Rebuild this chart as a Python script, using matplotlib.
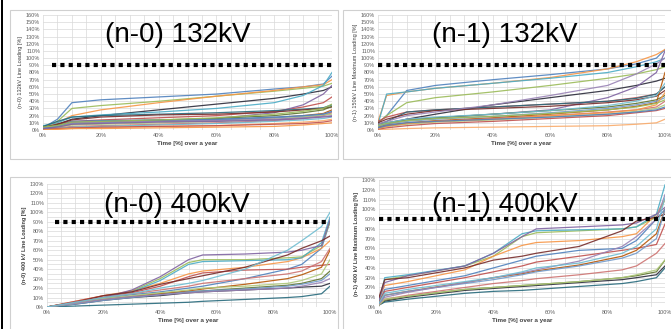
import matplotlib
matplotlib.use("Agg")
import matplotlib.pyplot as plt
from matplotlib.patches import Rectangle

plt.rcParams['font.family'] = ['Liberation Sans', 'DejaVu Sans']

W, H = 671, 329

# ---------------- data ----------------
titles = ["(n-0) 132kV", "(n-1) 132kV", "(n-0) 400kV", "(n-1) 400kV"]
ylabels = ["(n-0) 132kV Line Loading [%]",
           "(n-1) 150kV Line Maximum Loading [%]",
           "(n-0) 400 kV Line Loading [%]",
           "(n-1) 400 kV Line Maximum Loading [%]"]
xlabel = "Time [%] over a year"
limit_level = 90

colors = ['#4F81BD', '#9BBB59', '#F79646', '#2B2B3A', '#4BACC6', '#C0504D',
          '#8064A2', '#276A7C', '#772C2A', '#5F7530', '#B65708', '#729ACA',
          '#CD7371', '#AFC97A', '#9983B5', '#6FBDD1', '#F9AB6B', '#C0504D',
          '#F79646', '#4F81BD', '#9BBB59', '#8064A2']

tl_x = [0, 5, 10, 20, 40, 60, 80, 90, 97, 100]
tl_series = [
    [3, 15, 38, 42, 46, 50, 57, 60, 64, 75],
    [3, 12, 30, 34, 40, 47, 54, 58, 61, 65],
    [4, 10, 20, 28, 38, 47, 55, 60, 63, 70],
    [2, 8, 15, 20, 28, 36, 44, 50, 55, 60],
    [6, 10, 18, 21, 25, 30, 38, 48, 62, 80],
    [3, 8, 12, 14, 17, 20, 26, 32, 38, 46],
    [2, 6, 10, 11, 13, 16, 24, 35, 50, 62],
    [5, 12, 18, 20, 22, 24, 27, 29, 31, 35],
    [3, 8, 14, 18, 21, 22, 25, 28, 30, 32],
    [4, 7, 10, 12, 14, 16, 20, 24, 28, 33],
    [2, 4, 8, 10, 12, 14, 17, 20, 23, 28],
    [2, 5, 9, 10, 12, 14, 17, 19, 22, 25],
    [1, 3, 5, 6, 8, 10, 13, 16, 20, 24],
    [2, 4, 7, 8, 10, 12, 15, 18, 21, 22],
    [3, 6, 10, 11, 12, 13, 15, 17, 19, 20],
    [1, 2, 4, 5, 7, 9, 12, 14, 16, 18],
    [0, 1, 2, 3, 5, 6, 9, 11, 13, 15],
    [1, 2, 3, 4, 5, 6, 8, 9, 11, 13],
    [0, 1, 2, 2, 3, 4, 5, 7, 9, 10],
    [2, 5, 12, 13, 14, 15, 18, 20, 22, 26],
    [4, 6, 11, 12, 14, 17, 22, 26, 30, 36],
    [2, 4, 8, 9, 11, 12, 14, 16, 18, 19],
]

tr_x = [0, 3, 10, 20, 40, 60, 80, 90, 97, 100]
tr_series = [
    [10, 20, 55, 62, 70, 77, 85, 92, 100, 112],
    [10, 20, 38, 45, 53, 62, 72, 78, 84, 88],
    [12, 48, 53, 58, 65, 73, 85, 95, 105, 112],
    [3, 8, 15, 22, 35, 45, 55, 62, 68, 72],
    [8, 50, 53, 58, 65, 72, 80, 88, 95, 100],
    [12, 18, 25, 28, 32, 36, 40, 45, 50, 60],
    [5, 10, 15, 17, 22, 28, 45, 60, 80, 110],
    [8, 12, 25, 28, 32, 36, 40, 44, 50, 60],
    [10, 15, 22, 27, 30, 33, 38, 42, 47, 55],
    [8, 10, 14, 17, 22, 27, 32, 37, 42, 48],
    [4, 7, 10, 13, 17, 22, 28, 33, 38, 80],
    [5, 8, 12, 15, 19, 24, 30, 35, 40, 45],
    [3, 6, 9, 12, 16, 20, 25, 28, 32, 40],
    [2, 5, 8, 11, 14, 18, 22, 26, 30, 35],
    [8, 12, 20, 25, 35, 48, 62, 78, 92, 100],
    [6, 10, 15, 18, 22, 27, 34, 40, 48, 65],
    [0, 1, 2, 3, 4, 5, 6, 8, 10, 15],
    [1, 3, 6, 9, 12, 16, 20, 24, 27, 30],
    [2, 5, 9, 12, 15, 20, 24, 28, 35, 52],
    [3, 6, 10, 12, 15, 18, 22, 25, 28, 32],
    [6, 9, 13, 16, 19, 23, 28, 32, 37, 42],
]

bl_x = [0, 10, 20, 30, 40, 50, 55, 70, 85, 90, 97, 100]
bl_series = [
    [0, 5, 9, 13, 16, 20, 22, 30, 40, 45, 62, 90],
    [0, 5, 10, 17, 30, 47, 50, 50, 52, 53, 65, 90],
    [0, 6, 12, 17, 25, 35, 38, 42, 48, 52, 62, 70],
    [0, 3, 7, 10, 12, 15, 16, 18, 20, 21, 22, 25],
    [0, 5, 10, 16, 28, 45, 48, 49, 50, 52, 68, 95],
    [0, 6, 12, 15, 22, 32, 36, 39, 40, 42, 44, 45],
    [0, 5, 10, 18, 32, 50, 55, 56, 58, 60, 65, 92],
    [0, 1, 2, 3, 4, 5, 6, 8, 10, 11, 14, 22],
    [0, 5, 12, 16, 24, 30, 33, 42, 55, 62, 70, 75],
    [0, 4, 8, 11, 14, 16, 17, 20, 23, 25, 30, 38],
    [0, 4, 8, 11, 14, 17, 19, 24, 30, 34, 42, 60],
    [0, 3, 7, 10, 13, 16, 17, 19, 22, 24, 28, 35],
    [0, 5, 10, 14, 18, 22, 25, 30, 35, 38, 48, 62],
    [0, 4, 9, 12, 15, 18, 20, 22, 25, 28, 35, 50],
    [0, 4, 8, 11, 13, 15, 16, 18, 20, 22, 26, 30],
    [0, 5, 10, 14, 20, 25, 28, 40, 60, 70, 85, 100],
]

br_x = [0, 2, 10, 30, 40, 50, 55, 70, 85, 90, 97, 100]
br_series = [
    [5, 18, 22, 32, 40, 48, 52, 58, 60, 68, 90, 100],
    [5, 28, 32, 42, 52, 72, 76, 78, 80, 82, 92, 110],
    [8, 22, 26, 38, 52, 63, 66, 68, 72, 75, 95, 110],
    [2, 6, 10, 17, 19, 21, 22, 25, 28, 30, 33, 42],
    [5, 30, 33, 42, 55, 75, 78, 79, 80, 82, 95, 125],
    [5, 16, 20, 30, 36, 42, 46, 52, 58, 60, 64, 85],
    [8, 25, 32, 42, 55, 72, 80, 82, 84, 86, 95, 102],
    [2, 5, 8, 14, 16, 17, 18, 21, 24, 26, 30, 40],
    [10, 28, 30, 40, 48, 52, 55, 62, 78, 88, 92, 95],
    [3, 7, 11, 18, 20, 22, 23, 26, 30, 32, 36, 48],
    [3, 12, 16, 25, 30, 34, 37, 43, 52, 58, 75, 100],
    [2, 12, 16, 24, 28, 33, 36, 42, 50, 55, 70, 100],
    [2, 8, 12, 20, 24, 27, 29, 33, 38, 42, 55, 65],
    [2, 8, 11, 18, 20, 22, 23, 26, 30, 33, 38, 48],
    [3, 10, 15, 25, 30, 35, 38, 47, 62, 72, 90, 115],
    [4, 14, 18, 26, 30, 36, 40, 45, 55, 62, 80, 112],
]

# ---------------- layout ----------------
fig = plt.figure(figsize=(W / 100, H / 100), dpi=100)
fig.patch.set_facecolor('white')


def fx(px):
    return px / W


def fy(py):
    return 1 - py / H


# left black bar
fig.add_artist(Rectangle((fx(1), 0), fx(3) - fx(1), 1, transform=fig.transFigure,
                         facecolor='black', edgecolor='none'))
# panel frames
frames = [(10, 10, 338, 159), (343, 10, 675, 159), (10, 177, 338, 335), (343, 177, 675, 335)]
for x0, y0, x1, y1 in frames:
    fig.add_artist(Rectangle((fx(x0), fy(y1)), fx(x1) - fx(x0), fy(y0) - fy(y1),
                             transform=fig.transFigure, facecolor='none',
                             edgecolor='#d0d0d0', linewidth=0.8))

# axes boxes (left, top, right, bottom) in pixels
boxes = [(43, 15, 332, 130), (378, 15, 665, 130), (47, 184, 330, 307), (379, 180, 665, 307)]
ymaxes = [160, 160, 130, 130]
ygrid_steps = [10, 10, 5, 5]
xs_all = [tl_x, tr_x, bl_x, br_x]
series_all = [tl_series, tr_series, bl_series, br_series]
dash_start = [3, 0, 3, 0]
title_pos = [(178, 35), (505, 35), (177, 205), (505, 205)]
ylabel_bold = [False, False, True, True]

for i in range(4):
    l, t, r, b = boxes[i]
    ax = fig.add_axes([fx(l), fy(b), fx(r) - fx(l), fy(t) - fy(b)])
    ax.set_xlim(0, 100)
    ax.set_ylim(0, ymaxes[i])
    ax.set_xticks(range(0, 101, 20))
    ax.set_xticklabels([f"{v}%" for v in range(0, 101, 20)])
    ax.set_yticks(range(0, ymaxes[i] + 1, 10))
    ax.set_yticklabels([f"{v}%" for v in range(0, ymaxes[i] + 1, 10)])
    for gx in range(0, 101, 5):
        ax.axvline(gx, color='#d9d9d9', linewidth=0.5, zorder=0)
    for gy in range(0, ymaxes[i] + 1, ygrid_steps[i]):
        ax.axhline(gy, color='#d9d9d9', linewidth=0.5, zorder=0)
    ax.tick_params(axis='both', length=0, labelsize=4, colors='#606060', pad=2)
    for s in ax.spines.values():
        s.set_visible(False)
    ax.axhline(0, color='#bfbfbf', linewidth=0.6, zorder=1)
    ax.set_facecolor('white')

    for j, ys in enumerate(series_all[i]):
        ax.plot(xs_all[i], ys, color=colors[j % len(colors)], linewidth=0.9,
                alpha=0.9, zorder=2)

    ax.plot([dash_start[i], 100], [limit_level, limit_level], color='black',
            linewidth=3, linestyle=(0, (1, 1)), dash_capstyle='butt', zorder=4)

    ax.set_xlabel(xlabel, fontsize=4.5, fontweight='bold', color='#404040', labelpad=2)
    ax.set_ylabel(ylabels[i], fontsize=4, color='#404040', labelpad=2,
                  fontweight='bold' if ylabel_bold[i] else 'normal')

    tx, ty = title_pos[i]
    fig.text(fx(tx), fy(ty), titles[i], fontsize=20, ha='center', va='center',
             color='black', zorder=10)

fig.savefig('out.png', dpi=100, facecolor='white')
